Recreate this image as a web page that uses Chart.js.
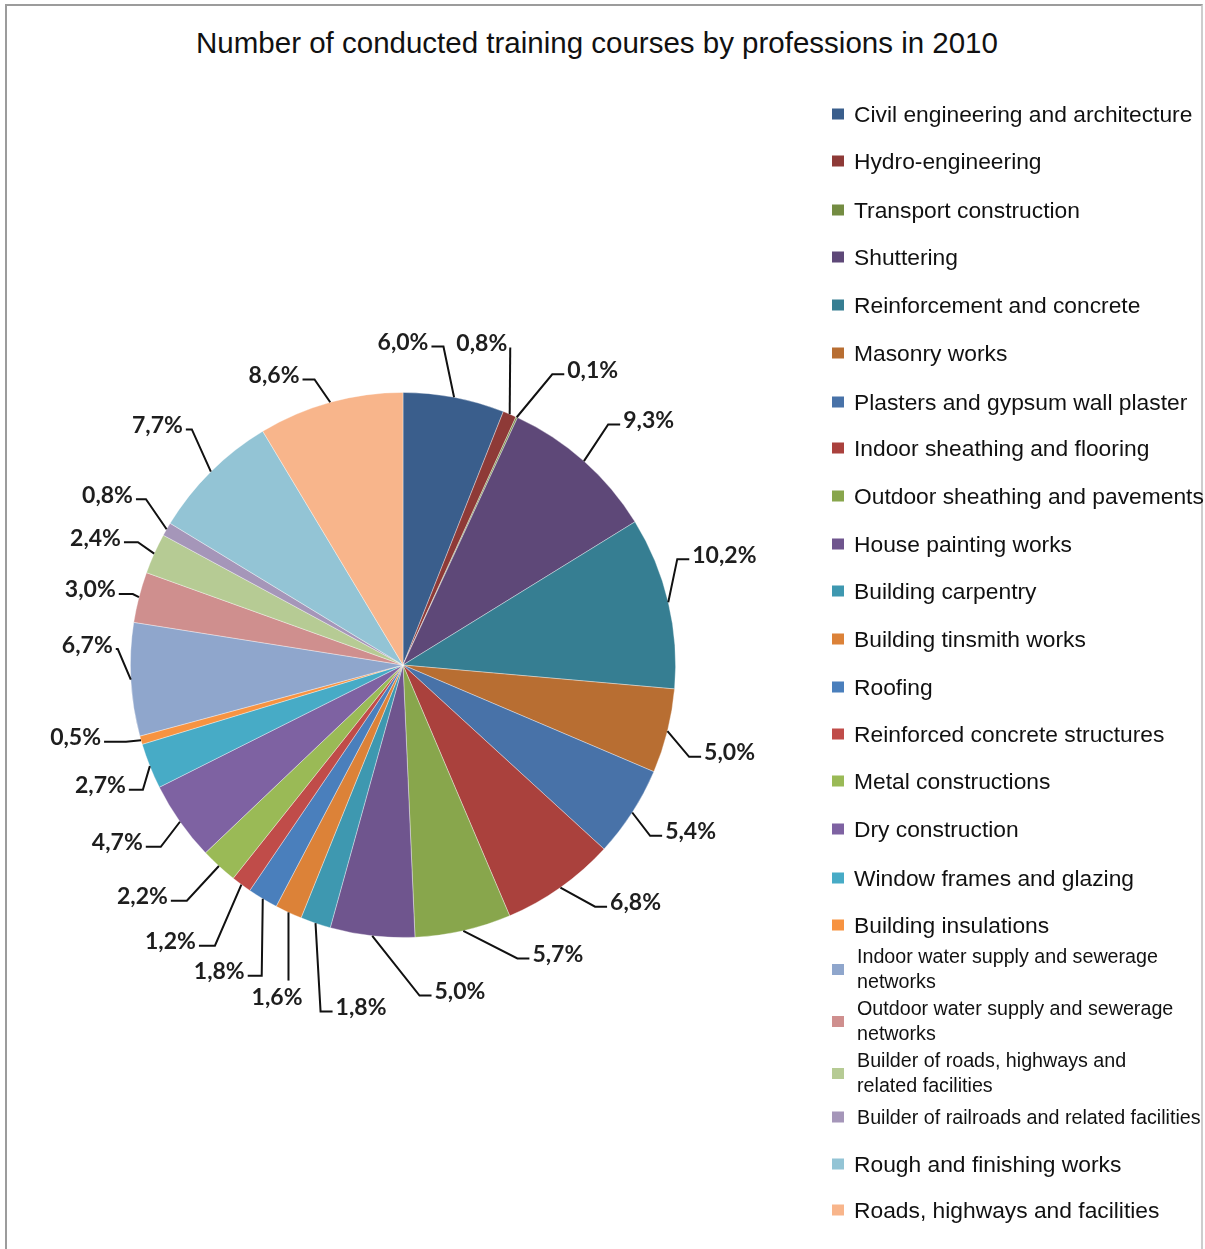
<!DOCTYPE html>
<html>
<head>
<meta charset="utf-8">
<script src="https://cdn.jsdelivr.net/npm/chart.js@4.4.0/dist/chart.umd.min.js"></script>
<style>
  html, body { margin: 0; padding: 0; background: #fff; }
  #wrap { position: relative; width: 1205px; height: 1249px; overflow: hidden; background: #fff; }
  #frame { position: absolute; left: 5px; top: 4px; width: 1194px; height: 1300px;
           border-left: 2px solid #9c9c9c; border-top: 2px solid #9c9c9c; border-right: 2px solid #cdcdcd; }
  #title { position: absolute; left: 0; width: 1194px; top: 26px; text-align: center;
           font: 29.5px "Liberation Sans", Arial, sans-serif; color: #111; white-space: nowrap; }
  #chart { position: absolute; left: 0; top: 0; }
  .lg { position: absolute; left: 832px; transform: translateY(-50%); display: flex; align-items: center; }
  .sw { width: 12px; height: 11px; flex: none; }
  .tx { font-family: "Liberation Sans", Arial, sans-serif; color: #111; white-space: nowrap; }
</style>
</head>
<body>
<div id="wrap">
  <div id="frame"></div>
  <div id="title">Number of conducted training courses by professions in 2010</div>
  <canvas id="chart" width="1205" height="1249"></canvas>
  <div id="legend"></div>
</div>
<script>
// Professions, in drawing order (clockwise from 12 o'clock)
const professions = [
  "Civil engineering and architecture",
  "Hydro-engineering",
  "Transport construction",
  "Shuttering",
  "Reinforcement and concrete",
  "Masonry works",
  "Plasters and gypsum wall plaster",
  "Indoor sheathing and flooring",
  "Outdoor sheathing and pavements",
  "House painting works",
  "Building carpentry",
  "Building tinsmith works",
  "Roofing",
  "Reinforced concrete structures",
  "Metal constructions",
  "Dry construction",
  "Window frames and glazing",
  "Building insulations",
  "Indoor water supply and sewerage networks",
  "Outdoor water supply and sewerage networks",
  "Builder of roads, highways and related facilities",
  "Builder of railroads and related facilities",
  "Rough and finishing works",
  "Roads, highways and facilities"
];

// Share of conducted courses, percent
const shares = [6.0, 0.8, 0.1, 9.3, 10.2, 5.0, 5.4, 6.8, 5.7, 5.0, 1.8, 1.6,
                1.8, 1.2, 2.2, 4.7, 2.7, 0.5, 6.7, 3.0, 2.4, 0.8, 7.7, 8.6];

const sliceColors = [
  "#3a5e8c", "#8e3a37", "#748c42", "#5e4878", "#367e92", "#b86e32",
  "#4872a8", "#aa413d", "#88a64c", "#6f558e", "#3e98b0", "#dc8238",
  "#4a7fbc", "#c04c49", "#9aba56", "#7e62a2", "#47abc6", "#f79341",
  "#8fa6cc", "#cf8f8e", "#b6cb94", "#a596b9", "#93c4d5", "#f8b58b"
];

// Label placement: centre offset in units of the pie radius, side of the elbow
// ('L' text left of elbow, 'R' text right, 'T' line meets text from above), elbow length
const labelLayout = [
  [0.000, -1.183, 'L', 12], [0.289, -1.179, 'L', 0], [0.696, -1.081, 'R', 12],
  [0.901, -0.897, 'R', 12], [1.179, -0.403, 'R', 12], [1.198, 0.322, 'R', 12],
  [1.055, 0.612, 'R', 12], [0.853, 0.872, 'R', 12], [0.568, 1.062, 'R', 12],
  [0.209, 1.198, 'R', 12], [-0.154, 1.256, 'R', 12], [-0.462, 1.220, 'T', 0],
  [-0.674, 1.125, 'L', 14], [-0.853, 1.015, 'L', 16], [-0.956, 0.850, 'L', 16],
  [-1.048, 0.652, 'L', 15], [-1.110, 0.443, 'L', 14], [-1.201, 0.267, 'L', 22],
  [-1.158, -0.073, 'L', 2], [-1.147, -0.275, 'L', 14], [-1.128, -0.465, 'L', 14],
  [-1.084, -0.623, 'L', 10], [-0.901, -0.879, 'L', 6], [-0.473, -1.062, 'L', 12]
];

// Legend rows: vertical centre of each entry
const legendRows = [114, 161, 210, 257, 305, 353, 402, 448, 496, 544, 591, 639,
                    687, 734, 781, 829, 878, 925, 969, 1021, 1073, 1117, 1164, 1210];
const smallLegend = new Set([18, 19, 20, 21]);

const fmt = v => v.toFixed(1).replace('.', ',') + '%';

const leaderLabels = {
  id: 'leaderLabels',
  afterDatasetsDraw(chart) {
    const ctx = chart.ctx;
    const arcs = chart.getDatasetMeta(0).data;
    ctx.save();
    ctx.font = 'bold 23px Lato, "Liberation Sans", sans-serif';
    ctx.textAlign = 'center';
    ctx.textBaseline = 'middle';
    arcs.forEach((arc, i) => {
      const { x, y, outerRadius: r, startAngle, endAngle } = arc.getProps(['x', 'y', 'outerRadius', 'startAngle', 'endAngle'], true);
      const mid = (startAngle + endAngle) / 2;
      const ex = x + Math.cos(mid) * r, ey = y + Math.sin(mid) * r;
      const [dx, dy, side, elbow] = labelLayout[i];
      const lx = x + dx * r, ly = y + dy * r;
      const text = fmt(shares[i]);
      const w = ctx.measureText(text).width;
      let ax, ay, bx, by;
      if (side === 'L') { ax = lx + w / 2 + 3; ay = ly + 4; bx = ax + elbow; by = ay; }
      else if (side === 'R') { ax = lx - w / 2 - 3; ay = ly + 4; bx = ax - elbow; by = ay; }
      else { ax = ex; ay = ly - 17; bx = ax; by = ay; }
      ctx.strokeStyle = '#111';
      ctx.lineWidth = 2;
      ctx.beginPath();
      ctx.moveTo(ex, ey);
      ctx.lineTo(bx, by);
      ctx.lineTo(ax, ay);
      ctx.stroke();
      ctx.fillStyle = '#1e1e1e';
      ctx.fillText(text, lx, ly);
    });
    ctx.restore();
  }
};

new Chart(document.getElementById('chart'), {
  type: 'pie',
  data: {
    labels: professions,
    datasets: [{
      data: shares,
      backgroundColor: sliceColors,
      borderColor: 'rgba(255,255,255,0.45)',
      borderWidth: 0.8
    }]
  },
  options: {
    responsive: false,
    animation: false,
    layout: { padding: { left: 130, top: 392, right: 529, bottom: 311 } },
    plugins: { legend: { display: false }, tooltip: { enabled: false } }
  },
  plugins: [leaderLabels]
});

// Legend on the right
const legend = document.getElementById('legend');
professions.forEach((name, i) => {
  const row = document.createElement('div');
  row.className = 'lg';
  row.style.top = legendRows[i] + 'px';
  const sw = document.createElement('div');
  sw.className = 'sw';
  sw.style.background = sliceColors[i];
  const tx = document.createElement('div');
  tx.className = 'tx';
  tx.textContent = name;
  if (smallLegend.has(i)) {
    tx.style.fontSize = '19.7px';
    tx.style.lineHeight = '25px';
    sw.style.marginRight = '13px';
    if (i !== 21) { tx.style.whiteSpace = 'normal'; tx.style.width = '325px'; }
  } else {
    tx.style.fontSize = '22.8px';
    sw.style.marginRight = '10px';
  }
  row.appendChild(sw);
  row.appendChild(tx);
  legend.appendChild(row);
});
</script>
</body>
</html>
